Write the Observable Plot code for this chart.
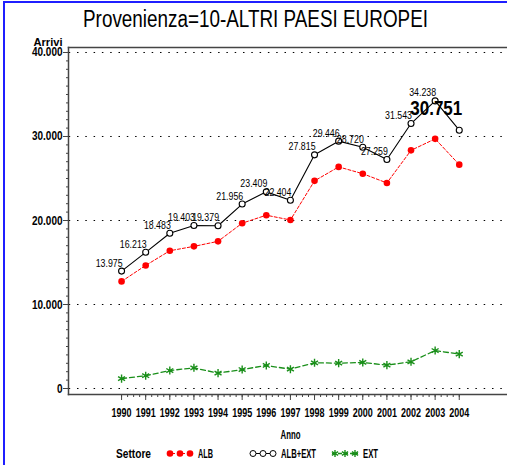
<!DOCTYPE html>
<html>
<head>
<meta charset="utf-8">
<script src="https://cdn.jsdelivr.net/npm/d3@7"></script>
<script src="https://cdn.jsdelivr.net/npm/@observablehq/plot@0.6"></script>
<style>
  html, body { margin: 0; padding: 0; background: #fff; }
  #wrap { position: relative; width: 507px; height: 465px; overflow: hidden; background: #fff; }
  #border { position: absolute; left: 3px; top: 1px; right: -10px; bottom: -10px;
            border-left: 2px solid #1f1fff; border-top: 2px solid #1f1fff; pointer-events: none; }
  svg { display: block; }
</style>
</head>
<body>
<div id="wrap">
  <svg id="title" width="507" height="36">
    <text id="titleText" x="255.5" y="27" text-anchor="middle" font-family="Liberation Sans, sans-serif"
          font-size="23" textLength="345" lengthAdjust="spacingAndGlyphs" fill="#000"></text>
  </svg>
  <div id="chart"></div>
  <svg id="legend" width="507" height="21"></svg>
  <div id="border"></div>
</div>
<script>
// ---- data ----
const years = [1990, 1991, 1992, 1993, 1994, 1995, 1996, 1997, 1998, 1999, 2000, 2001, 2002, 2003, 2004];
const albExt = [13975, 16213, 18483, 19403, 19379, 21956, 23409, 22404, 27815, 29446, 28720, 27259, 31543, 34238, 30751];
const alb = [12750, 14650, 16400, 16920, 17520, 19680, 20630, 20060, 24720, 26380, 25570, 24470, 28350, 29720, 26650];
const ext = [1180, 1520, 2140, 2460, 1830, 2260, 2740, 2300, 3060, 3020, 3100, 2780, 3180, 4520, 4090];
const yTicks = [0, 10000, 20000, 30000, 40000];
const yTickLabels = ["0", "10.000", "20.000", "30.000", "40.000"];
const seriesNames = ["ALB", "ALB+EXT", "EXT"];
const titleText = "Provenienza=10-ALTRI PAESI EUROPEI";
const yLabel = "Arrivi";
const xLabel = "Anno";
const legendTitle = "Settore";

document.getElementById("titleText").textContent = titleText;

// ---- build tables ----
const fmt = d3.formatLocale({decimal: ",", thousands: ".", grouping: [3], currency: ["", ""]}).format(",");
const rowsTot = years.map((y, i) => ({year: y, value: albExt[i], label: fmt(albExt[i])}));
const rowsAlb = years.map((y, i) => ({year: y, value: alb[i]}));
const rowsExt = years.map((y, i) => ({year: y, value: ext[i]}));
const yLabelMap = new Map(yTicks.map((t, i) => [t, yTickLabels[i]]));
const yMinor = d3.range(0, 40001, 1000);
const xMinor = d3.range(1990, 2004.01, 0.25);
const lastYear = years[years.length - 1];

const font = "Liberation Sans, Arial, sans-serif";
const axisColor = "#444";
const red = "#ff0000";
const green = "#1a8f1a";

const chart = Plot.plot({
  width: 507,
  height: 408,
  marginLeft: 68,
  marginRight: 0,
  marginTop: 11,
  marginBottom: 50,
  style: {fontFamily: font, fontSize: "12px", background: "transparent", overflow: "visible", color: "#000"},
  x: {type: "linear", domain: [1987.8, 2006.0]},
  y: {domain: [-714, 40595]},
  marks: [
    Plot.gridY(yTicks, {stroke: "#000", strokeOpacity: 1, strokeWidth: 1, strokeDasharray: "1.5,6.8", strokeDashoffset: -0.7}),
    Plot.axisY(yMinor, {tickSize: 2, tickFormat: () => "", label: null, stroke: axisColor}),
    Plot.axisY(yTicks, {tickSize: 5, tickPadding: 1, tickFormat: d => yLabelMap.get(d), label: null,
                        stroke: axisColor, fill: "#000", fontWeight: "bold", fontSize: 12.5}),
    Plot.axisX(xMinor, {tickSize: 3, tickFormat: () => "", label: null, stroke: axisColor}),
    Plot.axisX(years, {tickSize: 6, tickPadding: 8, tickFormat: d => String(d), label: null,
                       stroke: axisColor, fill: "#000", fontWeight: "bold", fontSize: 12.5}),
    Plot.frame({anchor: "left", stroke: axisColor, strokeWidth: 1.5}),
    Plot.frame({anchor: "bottom", stroke: axisColor, strokeWidth: 1.5}),
    Plot.frame({anchor: "top", stroke: axisColor, strokeWidth: 1.5}),
    Plot.text([yLabel], {frameAnchor: "top-left", textAnchor: "start", lineAnchor: "middle", dx: -35, dy: -5,
                         fontWeight: "bold", fontSize: 11}),
    Plot.text([xLabel], {frameAnchor: "bottom", lineAnchor: "middle", dx: 2.5, dy: 41, fontWeight: "bold", fontSize: 12}),
    // EXT
    Plot.line(rowsExt, {x: "year", y: "value", stroke: green, strokeWidth: 1.3, strokeDasharray: "5,3"}),
    Plot.dot(rowsExt, {x: "year", y: "value", symbol: "asterisk", r: 3.8, stroke: green, strokeWidth: 1.4}),
    // ALB
    Plot.line(rowsAlb, {x: "year", y: "value", stroke: red, strokeWidth: 1, strokeDasharray: "3,2"}),
    Plot.dot(rowsAlb, {x: "year", y: "value", r: 3.3, fill: red, stroke: "none"}),
    // ALB+EXT
    Plot.line(rowsTot, {x: "year", y: "value", stroke: "#000", strokeWidth: 1.1}),
    Plot.dot(rowsTot, {x: "year", y: "value", r: 3, fill: "#fff", stroke: "#000", strokeWidth: 1.1}),
    Plot.text(rowsTot.filter(d => d.year !== lastYear), {x: "year", y: "value", text: "label", textAnchor: "end",
              dx: 1, dy: -8, fontSize: 11, fill: "#000"}),
    Plot.text(rowsTot.filter(d => d.year === lastYear), {x: "year", y: "value", text: "label", textAnchor: "end",
              dx: 3, dy: -22, fontSize: 21, fontWeight: "bold", fill: "#000"})
  ]
});
document.getElementById("chart").appendChild(chart);

// condense text horizontally to imitate the narrow SAS font
function condense(nodes, factor) {
  nodes.forEach(t => {
    const w = t.getComputedTextLength();
    if (w > 0) { t.setAttribute("textLength", (w * factor).toFixed(2)); t.setAttribute("lengthAdjust", "spacingAndGlyphs"); }
  });
}
function fitWidth(t, w) { t.setAttribute("textLength", w); t.setAttribute("lengthAdjust", "spacingAndGlyphs"); }
condense(chart.querySelectorAll('g[aria-label="x-axis tick label"] text'), 0.72);
condense(chart.querySelectorAll('g[aria-label="y-axis tick label"] text'), 0.8);
const textGroups = chart.querySelectorAll('g[aria-label="text"]');
// groups in order: yLabel, xLabel, data labels, big label
textGroups[0].querySelectorAll("text").forEach(t => fitWidth(t, 29));
textGroups[1].querySelectorAll("text").forEach(t => fitWidth(t, 20));
condense(textGroups[2].querySelectorAll("text"), 0.8);
condense(textGroups[3].querySelectorAll("text"), 0.81);

// ---- legend ----
const ns = "http://www.w3.org/2000/svg";
const legend = document.getElementById("legend");
function el(name, attrs, parent) {
  const e = document.createElementNS(ns, name);
  for (const k in attrs) e.setAttribute(k, attrs[k]);
  (parent || legend).appendChild(e);
  return e;
}
function addText(txt, x, w) {
  const t = el("text", {x: x, y: 13.5, "font-family": font, "font-weight": "bold", "font-size": 12, fill: "#000",
                        textLength: w, lengthAdjust: "spacingAndGlyphs"});
  t.textContent = txt;
}
function addSym(x0, kind) {
  const cy = 9.5;
  const xs = [x0 + 3, x0 + 13, x0 + 23];
  const line = el("line", {x1: x0, x2: x0 + 26, y1: cy, y2: cy});
  if (kind === 0) { line.setAttribute("stroke", red); line.setAttribute("stroke-dasharray", "3,2"); }
  else if (kind === 2) { line.setAttribute("stroke", green); line.setAttribute("stroke-dasharray", "4,2"); line.setAttribute("stroke-width", 1.3); }
  else { line.setAttribute("stroke", "#000"); }
  xs.forEach(cx => {
    if (kind === 0) el("circle", {cx: cx, cy: cy, r: 3.3, fill: red});
    else if (kind === 1) el("circle", {cx: cx, cy: cy, r: 3, fill: "#fff", stroke: "#000"});
    else {
      const r = 3.6; let d = "";
      for (let k = 0; k < 3; k++) {
        const a = Math.PI / 2 + k * Math.PI / 3;
        d += `M${cx + r * Math.cos(a)},${cy + r * Math.sin(a)}L${cx - r * Math.cos(a)},${cy - r * Math.sin(a)}`;
      }
      el("path", {d: d, stroke: green, "stroke-width": 1.4});
    }
  });
}
addText(legendTitle, 116, 35);
addSym(167, 0); addText(seriesNames[0], 198, 15);
addSym(250, 1); addText(seriesNames[1], 281, 35);
addSym(332, 2); addText(seriesNames[2], 363, 15);
</script>
</body>
</html>
